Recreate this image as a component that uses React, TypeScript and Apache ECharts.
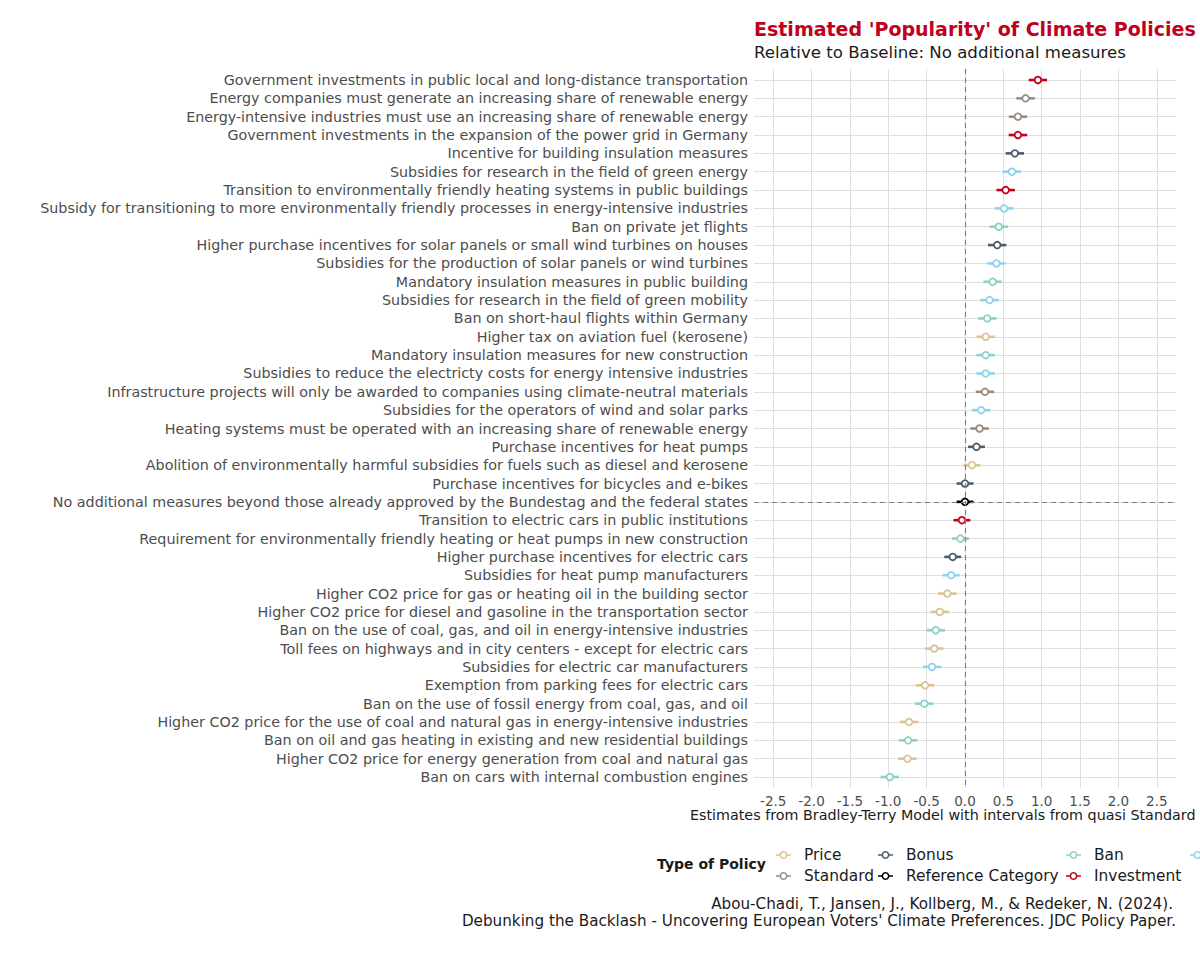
import React, { useEffect, useRef } from "react";
import * as echarts from "echarts";

const categories = [
  "Government investments in public local and long-distance transportation",
  "Energy companies must generate an increasing share of renewable energy",
  "Energy-intensive industries must use an increasing share of renewable energy",
  "Government investments in the expansion of the power grid in Germany",
  "Incentive for building insulation measures",
  "Subsidies for research in the field of green energy",
  "Transition to environmentally friendly heating systems in public buildings",
  "Subsidy for transitioning to more environmentally friendly processes in energy-intensive industries",
  "Ban on private jet flights",
  "Higher purchase incentives for solar panels or small wind turbines on houses",
  "Subsidies for the production of solar panels or wind turbines",
  "Mandatory insulation measures in public building",
  "Subsidies for research in the field of green mobility",
  "Ban on short-haul flights within Germany",
  "Higher tax on aviation fuel (kerosene)",
  "Mandatory insulation measures for new construction",
  "Subsidies to reduce the electricty costs for energy intensive industries",
  "Infrastructure projects will only be awarded to companies using climate-neutral materials",
  "Subsidies for the operators of wind and solar parks",
  "Heating systems must be operated with an increasing share of renewable energy",
  "Purchase incentives for heat pumps",
  "Abolition of environmentally harmful subsidies for fuels such as diesel and kerosene",
  "Purchase incentives for bicycles and e-bikes",
  "No additional measures beyond those already approved by the Bundestag and the federal states",
  "Transition to electric cars in public institutions",
  "Requirement for environmentally friendly heating or heat pumps in new construction",
  "Higher purchase incentives for electric cars",
  "Subsidies for heat pump manufacturers",
  "Higher CO2 price for gas or heating oil in the building sector",
  "Higher CO2 price for diesel and gasoline in the transportation sector",
  "Ban on the use of coal, gas, and oil in energy-intensive industries",
  "Toll fees on highways and in city centers - except for electric cars",
  "Subsidies for electric car manufacturers",
  "Exemption from parking fees for electric cars",
  "Ban on the use of fossil energy from coal, gas, and oil",
  "Higher CO2 price for the use of coal and natural gas in energy-intensive industries",
  "Ban on oil and gas heating in existing and new residential buildings",
  "Higher CO2 price for energy generation from coal and natural gas",
  "Ban on cars with internal combustion engines",
];

const policyTypes = [
  "Investment", "Standard", "Standard", "Investment", "Bonus", "Subsidy", "Investment", "Subsidy",
  "Ban", "Bonus", "Subsidy", "Ban", "Subsidy", "Ban", "Price", "Ban", "Subsidy", "Standard",
  "Subsidy", "Standard", "Bonus", "Price", "Bonus", "Reference Category", "Investment", "Ban",
  "Bonus", "Subsidy", "Price", "Price", "Ban", "Price", "Subsidy", "Price", "Ban", "Price",
  "Ban", "Price", "Ban",
];

const estimates = [
  0.95, 0.79, 0.69, 0.69, 0.65, 0.61, 0.53, 0.51, 0.44, 0.42, 0.41, 0.36, 0.32, 0.29, 0.27,
  0.27, 0.27, 0.26, 0.21, 0.19, 0.15, 0.09, 0.0, 0.0, -0.04, -0.06, -0.16, -0.18, -0.23, -0.33,
  -0.38, -0.4, -0.43, -0.52, -0.53, -0.73, -0.74, -0.75, -0.98,
];

const halfWidths = [
  0.12, 0.12, 0.12, 0.12, 0.12, 0.12, 0.12, 0.12, 0.12, 0.12, 0.12, 0.12, 0.12, 0.12, 0.12,
  0.12, 0.12, 0.12, 0.12, 0.12, 0.11, 0.11, 0.11, 0.11, 0.11, 0.11, 0.11, 0.11, 0.12, 0.12,
  0.12, 0.12, 0.12, 0.12, 0.12, 0.12, 0.12, 0.12, 0.12,
];

const typeOrder = ["Price", "Standard", "Bonus", "Reference Category", "Ban", "Investment", "Subsidy"];
const typeColors = ["#dcc294", "#9c8c80", "#4e5c6a", "#000000", "#8fd1c6", "#c4001e", "#8ed3ec"];

const xTicks = [-2.5, -2.0, -1.5, -1.0, -0.5, 0.0, 0.5, 1.0, 1.5, 2.0, 2.5];
const referenceValue = 0;
const referenceCategory = "No additional measures beyond those already approved by the Bundestag and the federal states";

const titleText = "Estimated 'Popularity' of Climate Policies";
const subtitleText = "Relative to Baseline: No additional measures";
const xAxisTitle = "Estimates from Bradley-Terry Model with intervals from quasi Standard";
const legendTitle = "Type of Policy";
const captionLines = [
  "Abou-Chadi, T., Jansen, J., Kollberg, M., & Redeker, N. (2024).",
  "Debunking the Backlash - Uncovering European Voters' Climate Preferences. JDC Policy Paper.",
];

const FONT = "DejaVu Sans";
const ICON =
  "path://M0,3.2H4.2V4.8H0Z M10.8,3.2H15V4.8H10.8Z M7.5,0 A4,4 0 1,1 7.49,0 Z M7.5,1.6 A2.4,2.4 0 1,0 7.51,1.6 Z";

export default function App() {
  const ref = useRef<HTMLDivElement>(null);

  useEffect(() => {
    document.body.style.margin = "0";
    if (!ref.current) return;
    const chart = echarts.init(ref.current, null, { renderer: "svg" });
    const idx = categories.map((_, i) => i);
    const refIdx = categories.indexOf(referenceCategory);

    const series: any[] = typeOrder.map((t, ti) => {
      const color = typeColors[ti];
      const data = categories
        .map((_, i) => i)
        .filter((i) => policyTypes[i] === t)
        .map((i) => [estimates[i], i, estimates[i] - halfWidths[i], estimates[i] + halfWidths[i]]);
      return {
        name: t,
        type: "custom",
        z: 3,
        itemStyle: { color },
        encode: { x: 0, y: 1 },
        data,
        renderItem: (params: any, api: any) => {
          const y = api.value(1);
          const c = api.coord([api.value(0), y]);
          const lo = api.coord([api.value(2), y]);
          const hi = api.coord([api.value(3), y]);
          return {
            type: "group",
            children: [
              {
                type: "line",
                shape: { x1: lo[0], y1: lo[1], x2: hi[0], y2: hi[1] },
                style: { stroke: color, lineWidth: 2.6 },
              },
              {
                type: "circle",
                shape: { cx: c[0], cy: c[1], r: 3.3 },
                style: { fill: "#ffffff", stroke: color, lineWidth: 1.8 },
              },
            ],
          };
        },
      };
    });

    series.push({
      type: "line",
      z: 1,
      data: [[referenceValue, refIdx]],
      showSymbol: false,
      symbol: "none",
      silent: true,
      markLine: {
        silent: true,
        symbol: ["none", "none"],
        label: { show: false },
        lineStyle: { color: "#808080", type: [5, 4], width: 1.2 },
        data: [{ xAxis: referenceValue }, { yAxis: refIdx }],
      },
    });

    const legendCols = [
      { left: 776, top: 847, names: ["Price", "Standard"] },
      { left: 878, top: 847, names: ["Bonus", "Reference Category"] },
      { left: 1066, top: 847, names: ["Ban", "Investment"] },
      { left: 1190, top: 851, names: ["Subsidy"], hideText: true },
    ];

    const legends = legendCols.map((col) => ({
      orient: "vertical",
      left: col.left,
      top: col.top,
      padding: 0,
      itemGap: 5,
      itemWidth: 15,
      itemHeight: 8,
      selectedMode: false,
      data: col.names.map((n) => ({ name: n, icon: ICON })),
      formatter: col.hideText ? () => "" : (n: string) => n,
      textStyle: {
        fontFamily: FONT,
        fontSize: 15.4,
        color: "#1a1a1a",
        lineHeight: 16,
        padding: [0, 0, 0, 8],
      },
    }));

    chart.setOption({
      animation: false,
      backgroundColor: "#ffffff",
      textStyle: { fontFamily: FONT },
      grid: { left: 754, top: 69, width: 422, height: 719, containLabel: false },
      xAxis: {
        type: "value",
        min: -2.75,
        max: 2.75,
        axisLine: { show: false },
        axisTick: { show: false, customValues: xTicks },
        axisLabel: {
          customValues: xTicks,
          formatter: (v: number) => v.toFixed(1),
          fontFamily: FONT,
          fontSize: 13.5,
          color: "#4d4d4d",
          margin: 6,
        },
        splitLine: { show: true, lineStyle: { color: "#dedede", width: 1 } },
      },
      yAxis: {
        type: "value",
        inverse: true,
        min: -0.6,
        max: categories.length - 1 + 0.6,
        axisLine: { show: false },
        axisTick: { show: false, customValues: idx },
        axisLabel: {
          customValues: idx,
          formatter: (v: number) => categories[Math.round(v)] ?? "",
          fontFamily: FONT,
          fontSize: 14.3,
          color: "#4d4d4d",
          margin: 6,
        },
        splitLine: { show: true, lineStyle: { color: "#dedede", width: 1 } },
      },
      legend: legends,
      graphic: [
        {
          type: "text",
          left: 754,
          top: 19,
          style: { text: titleText, fontFamily: FONT, fontSize: 19, fontWeight: "bold", fill: "#c0001e" },
        },
        {
          type: "text",
          left: 754,
          top: 44,
          style: { text: subtitleText, fontFamily: FONT, fontSize: 16.6, fill: "#1a1a1a" },
        },
        {
          type: "text",
          left: 690,
          top: 808,
          style: { text: xAxisTitle, fontFamily: FONT, fontSize: 14.3, fill: "#1a1a1a" },
        },
        {
          type: "text",
          left: 657,
          top: 857,
          style: { text: legendTitle, fontFamily: FONT, fontSize: 14, fontWeight: "bold", fill: "#1a1a1a" },
        },
        {
          type: "text",
          right: 27,
          top: 896,
          style: { text: captionLines[0], fontFamily: FONT, fontSize: 15.2, fill: "#1a1a1a" },
        },
        {
          type: "text",
          right: 24,
          top: 913,
          style: { text: captionLines[1], fontFamily: FONT, fontSize: 15.2, fill: "#1a1a1a" },
        },
      ],
      series,
    });

    return () => chart.dispose();
  }, []);

  return <div ref={ref} style={{ width: 1200, height: 953 }} />;
}
